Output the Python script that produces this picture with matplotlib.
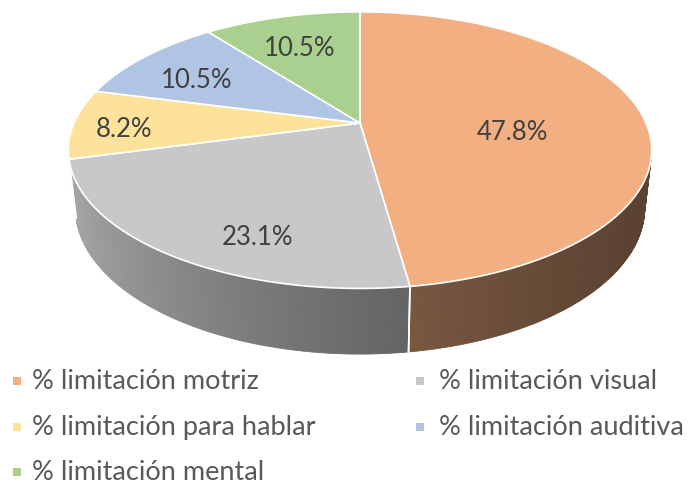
import numpy as np
import matplotlib
matplotlib.use("Agg")
import matplotlib.pyplot as plt
from matplotlib.patches import Polygon
from matplotlib.colors import to_rgb

# ---------------- data ----------------
categories = ["% limitación motriz", "% limitación visual", "% limitación para hablar",
              "% limitación auditiva", "% limitación mental"]
values = [47.8, 23.1, 8.2, 10.5, 10.5]
label_texts = ["47.8%", "23.1%", "8.2%", "10.5%", "10.5%"]
colors = ["#F2AF81", "#C8C8C8", "#FCE29B", "#B0C4E4", "#A9D08E"]

# ---------------- style / geometry ----------------
W, H = 689, 486
cx, cy = 360, 123          # apex of the pie on screen (px)
R = 286                    # radius scale (px)
tilt = np.radians(27.7)    # elevation of the view
F = 4.51                   # perspective distance (in radius units)
depth = 0.23               # thickness of the pie (radius units)
label_r = [0.53, 0.80, 0.82, 0.70, 0.67]
label_dphi = [-12, 11, 3, 4, 2]
label_font = "Lato"

sin_t, cos_t = np.sin(tilt), np.cos(tilt)


def proj(phi_deg, r, z):
    phi = np.radians(phi_deg)
    u = r * np.cos(phi)
    v = r * np.sin(phi)
    D = v * cos_t - z * sin_t
    s = F / (F + D)
    X = R * u * s
    Y = R * (v * sin_t + z * cos_t) * s
    return cx + X, cy - Y


def shade(phi_deg):
    return 0.645 + 0.267 * np.cos(np.radians(phi_deg + 205))


fig = plt.figure(figsize=(W / 100, H / 100), dpi=100)
ax = fig.add_axes([0, 0, 1, 1])
ax.set_xlim(0, W)
ax.set_ylim(H, 0)
ax.axis("off")

vals = np.array(values, dtype=float)
fr = vals / vals.sum()
cum = np.concatenate([[0], np.cumsum(fr)])
starts = 90 - 360 * cum[:-1]
ends = 90 - 360 * cum[1:]

# visible range of the side wall
lim = np.degrees(np.arcsin(1.0 / (F * cos_t)))
vis_lo, vis_hi = -180 + lim, -lim

# side walls
for i in range(len(values)):
    a0, a1 = ends[i], starts[i]  # a0 < a1
    for shift in (0, -360, 360):
        lo = max(a0 + shift, vis_lo)
        hi = min(a1 + shift, vis_hi)
        if hi <= lo:
            continue
        base = np.array(to_rgb(colors[i]))
        angs = np.linspace(lo, hi, max(2, int((hi - lo) * 2) + 1))
        for k in range(len(angs) - 1):
            p0, p1 = angs[k], angs[k + 1]
            xs0, ys0 = proj(np.array([p0, p1]), 1.0, 0.0)
            xs1, ys1 = proj(np.array([p1, p0]), 1.0, -depth)
            col = np.clip(base * shade((p0 + p1) / 2), 0, 1)
            poly = Polygon(np.column_stack([np.r_[xs0, xs1], np.r_[ys0, ys1]]),
                           closed=True, facecolor=col, edgecolor=col, lw=0.6, zorder=1)
            ax.add_patch(poly)
        for b in (a0 + shift, a1 + shift):
            if vis_lo + 0.5 < b < vis_hi - 0.5:
                xb, yb = proj(np.array([b, b]), 1.0, np.array([0.0, -depth]))
                ax.plot(xb, yb, color="white", lw=1.2, zorder=2)

# top faces
for i in range(len(values)):
    angs = np.linspace(starts[i], ends[i], 200)
    xs, ys = proj(angs, 1.0, 0.0)
    x0, y0 = proj(0.0, 0.0, 0.0)
    poly = Polygon(np.column_stack([np.r_[x0, xs], np.r_[y0, ys]]), closed=True,
                   facecolor=colors[i], edgecolor="white", lw=1.2, zorder=3,
                   joinstyle="round")
    ax.add_patch(poly)

# data labels
for i in range(len(values)):
    mid = (starts[i] + ends[i]) / 2 + label_dphi[i]
    lx, ly = proj(mid, label_r[i], 0.0)
    ax.text(lx, ly, label_texts[i], ha="center", va="center", fontsize=18.5,
            color="#404040", family=label_font, zorder=5)

# legend (row-major, 2 columns)
col_marker_x = [17, 420]
col_text_x = [32, 439]
row_y = [381, 427, 472]
for i, cat in enumerate(categories):
    r, c = divmod(i, 2)
    ax.add_patch(plt.Rectangle((col_marker_x[c] - 4, row_y[r] - 4), 8, 8,
                               facecolor=colors[i], edgecolor="none", zorder=5))
    ax.text(col_text_x[c], row_y[r], cat, ha="left", va="center", fontsize=19.5,
            color="#595959", family=label_font, zorder=5)

fig.savefig("out.png", dpi=100)
